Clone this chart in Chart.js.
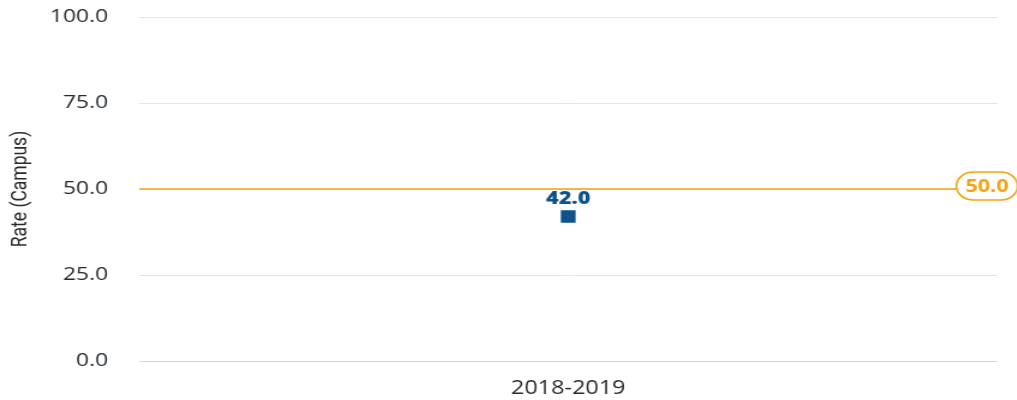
<!DOCTYPE html>
<html>
<head>
<meta charset="utf-8">
<script src="https://cdn.jsdelivr.net/npm/chart.js@4/dist/chart.umd.min.js"></script>
<style>
  html, body { margin: 0; padding: 0; background: #fff; overflow: hidden; }
  /* reference is drawn a little wide, so stretch the canvas horizontally */
  #wrap { width: 848px; height: 400px; transform: scaleX(1.2); transform-origin: 0 0; }
</style>
</head>
<body>
<div id="wrap"><canvas id="chart" width="848" height="400" style="width:848px;height:400px"></canvas></div>
<script>
// ── Data ─────────────────────────────────────────────
const categories = ['2018-2019'];
const campusRate = [42.0];
const targetRate = [50.0];
const yTicks     = [0, 25, 50, 75, 100];

const BLUE   = '#0d5289';
const ORANGE = '#f5a20f';
const INK    = '#262b30';

// ── Plugins ──────────────────────────────────────────
const targetLine = {
  id: 'targetLine',
  afterDatasetsDraw(chart) {
    const { ctx, chartArea, scales } = chart;
    const y = scales.y.getPixelForValue(targetRate[0]);
    ctx.save();
    ctx.strokeStyle = ORANGE;
    ctx.lineWidth = 1.5;
    ctx.beginPath();
    ctx.moveTo(chartArea.left, y);
    ctx.lineTo(chartArea.right, y);
    ctx.stroke();

    // pill label at right end
    const txt = targetRate[0].toFixed(1);
    ctx.font = 'bold 18px "Open Sans"';
    const w = 51, h = 28, cy = y - 3;
    const cx = chartArea.right - 8.5, x0 = cx - w / 2;
    ctx.beginPath();
    ctx.roundRect(x0, cy - h / 2, w, h, h / 2);
    ctx.fillStyle = '#fff';
    ctx.fill();
    ctx.lineWidth = 1.6;
    ctx.stroke();
    ctx.fillStyle = ORANGE;
    ctx.textAlign = 'center';
    ctx.textBaseline = 'middle';
    ctx.fillText(txt, cx, cy + 1);
    ctx.restore();
  }
};

const pointLabels = {
  id: 'pointLabels',
  afterDatasetsDraw(chart) {
    const { ctx } = chart;
    const meta = chart.getDatasetMeta(0);
    ctx.save();
    ctx.font = '800 18px "Open Sans"';
    ctx.fillStyle = BLUE;
    ctx.textAlign = 'center';
    ctx.textBaseline = 'bottom';
    meta.data.forEach((pt, i) => {
      ctx.fillText(campusRate[i].toFixed(1), pt.x, pt.y - 9);
    });
    ctx.restore();
  }
};

// ── Chart ────────────────────────────────────────────
new Chart(document.getElementById('chart'), {
  type: 'line',
  data: {
    labels: categories,
    datasets: [{
      data: campusRate,
      showLine: false,
      pointStyle: 'rect',
      pointRadius: 8.7,
      pointHoverRadius: 8.7,
      pointBackgroundColor: BLUE,
      pointBorderColor: BLUE,
      pointBorderWidth: 0,
    }]
  },
  options: {
    responsive: false,
    animation: false,
    events: [],
    layout: { padding: { top: 17, right: 17, bottom: 0, left: 0 } },
    plugins: { legend: { display: false }, tooltip: { enabled: false } },
    scales: {
      x: {
        offset: true,
        grid: { display: false },
        border: { display: false },
        ticks: { color: INK, font: { family: 'Open Sans', size: 19.5, weight: '500' }, padding: 8 },
        afterFit: s => { s.height = 39; },
      },
      y: {
        min: 0,
        max: 100,
        afterBuildTicks: s => { s.ticks = yTicks.map(v => ({ value: v })); },
        grid: {
          drawTicks: false,
          lineWidth: 1,
          color: c => c.tick && c.tick.value === 0 ? '#cfd3ec' : '#e4e5ea',
        },
        border: { display: false },
        ticks: {
          color: INK,
          font: { family: 'Open Sans', size: 19, weight: '500' },
          padding: 26,
          callback: v => Number(v).toFixed(1),
        },
        title: {
          display: true,
          text: 'Rate (Campus)',
          color: '#2a2a2a',
          font: { family: 'Roboto', size: 17.5 },
          padding: { top: 7, bottom: 0 },
        },
        afterFit: s => { s.width = 116; s.paddingTop = 0; s.paddingBottom = 0; },
      }
    }
  },
  plugins: [targetLine, pointLabels]
});
</script>
</body>
</html>
